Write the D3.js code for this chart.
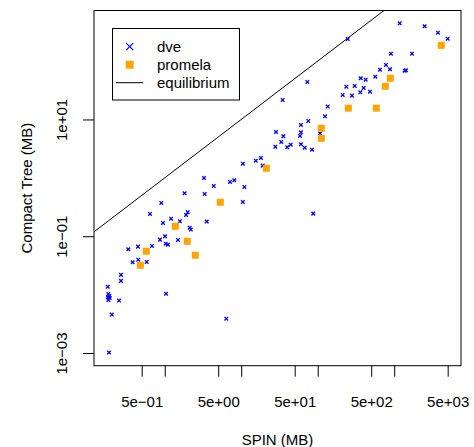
<!DOCTYPE html>
<html>
<head>
<meta charset="utf-8">
<script src="https://cdn.jsdelivr.net/npm/d3@7"></script>
<style>
  html, body { margin: 0; padding: 0; background: #fff; }
  svg { display: block; font-family: "Liberation Sans", Arial, Helvetica, sans-serif; }
</style>
</head>
<body>
<svg id="chart" width="474" height="447"></svg>
<script>
// ---- data ----
const dveSpin = [1179, 2500, 3733, 5000, 246.5, 907, 1708, 780, 651.6, 880.6, 1371, 1426,
  73.1, 364.6, 423.6, 565.6, 236.4, 304.3, 399, 360.2, 482, 212.1, 280.5, 34.8, 135, 124.5,
  75.3, 60.4, 28.5, 60.4, 35.5, 58.6, 107.1, 33.4, 44.3, 27.9, 40.0, 60.4, 67.5, 84.1,
  18.1, 15.5, 10.5, 19.1, 3.26, 4.37, 7.13, 8.12, 11.0, 1.82, 3.33, 10.5, 0.902, 0.642,
  2.00, 1.90, 1.21, 0.949, 1.58, 3.54, 2.12, 2.19, 1.01, 0.867, 1.49, 1.03, 1.10, 0.682,
  0.447, 0.334, 0.451, 0.581, 0.381, 0.268, 0.268, 0.180, 0.183, 0.189, 0.180, 0.191,
  0.183, 1.04, 0.253, 0.203, 0.187, 6.38, 87.5];
const dveTree = [443.6, 394.5, 306.4, 241.8, 238.9, 133.9, 133.9, 85.8, 71.2, 72.4, 68.5, 69.6,
  43.9, 50.8, 48.0, 54.1, 36.4, 37.5, 34.6, 29.2, 29.9, 26.3, 25.6, 21.6, 16.6, 11.3,
  9.43, 8.05, 6.11, 6.04, 5.16, 5.22, 5.80, 4.12, 3.70, 3.42, 3.34, 3.76, 3.29, 3.04,
  2.19, 1.97, 1.75, 1.62, 0.996, 0.727, 0.851, 0.910, 0.699, 0.545, 0.530, 0.387, 0.372, 0.241,
  0.258, 0.232, 0.200, 0.169, 0.181, 0.179, 0.140, 0.130, 0.100, 0.0875, 0.0864, 0.0747, 0.0718, 0.0682,
  0.0664, 0.0599, 0.0397, 0.0363, 0.0359, 0.0218, 0.0172, 0.0137, 0.0103, 0.00950, 0.00903, 0.00878,
  0.00811, 0.0104, 0.00790, 0.00455, 0.00102, 0.00388, 0.244];
const promelaSpin = [0.48, 0.574, 1.374, 1.97, 2.51, 5.33, 21.3, 111.4, 111.4, 251, 583, 764, 889, 4121];
const promelaTree = [0.0318, 0.0553, 0.148, 0.082, 0.0473, 0.382, 1.46, 7.07, 4.76, 15.6, 15.6, 37.0, 50.8, 186];

const xTicks = [0.5, 1, 5, 10, 50, 100, 500, 1000, 5000];
const xTickLabels = ["5e\u221201", "", "5e+00", "", "5e+01", "", "5e+02", "", "5e+03"];
const yTicks = [0.001, 0.1, 10];
const yTickLabels = ["1e\u221203", "1e\u221201", "1e+01"];

const legendLabels = ["dve", "promela", "equilibrium"];
const xTitle = "SPIN (MB)";
const yTitle = "Compact Tree (MB)";

// ---- layout ----
const L = 94, R = 461, T = 10.5, B = 365.7;
const svg = d3.select("#chart");

const x = d3.scaleLog().domain([Math.pow(10, -0.9245), Math.pow(10, 3.873)]).range([L, R]);
const y = d3.scaleLog().domain([Math.pow(10, -3.217), Math.pow(10, 2.866)]).range([B, T]);

svg.append("rect").attr("width", 474).attr("height", 447).attr("fill", "#fff");

svg.append("defs").append("clipPath").attr("id", "plotclip")
  .append("rect").attr("x", L).attr("y", T).attr("width", R - L).attr("height", B - T);

// equilibrium line y = x
const eqStart = Math.max(x.domain()[0], y.domain()[0]);
const eqEnd = Math.min(x.domain()[1], y.domain()[1]);
svg.append("line")
  .attr("clip-path", "url(#plotclip)")
  .attr("x1", x(eqStart)).attr("y1", y(eqStart))
  .attr("x2", x(eqEnd)).attr("y2", y(eqEnd))
  .attr("stroke", "#000").attr("stroke-width", 1);

// dve points (x marks)
const dve = dveSpin.map((v, i) => [v, dveTree[i]]);
const s = 1.8;
svg.append("g").selectAll("path").data(dve).join("path")
  .attr("d", `M${-s},${-s}L${s},${s}M${-s},${s}L${s},${-s}`)
  .attr("transform", d => `translate(${x(d[0])},${y(d[1])})`)
  .attr("stroke", "#0000ff").attr("stroke-width", 1.3).attr("fill", "none");

// promela points (squares)
const prom = promelaSpin.map((v, i) => [v, promelaTree[i]]);
const q = 7;
svg.append("g").selectAll("rect").data(prom).join("rect")
  .attr("x", d => x(d[0]) - q / 2).attr("y", d => y(d[1]) - q / 2)
  .attr("width", q).attr("height", q).attr("fill", "#ffa500");

// box
svg.append("rect").attr("x", L).attr("y", T).attr("width", R - L).attr("height", B - T)
  .attr("fill", "none").attr("stroke", "#000").attr("stroke-width", 1);

// x axis
const xAxis = d3.axisBottom(x).tickValues(xTicks).tickSize(11)
  .tickFormat((d, i) => xTickLabels[i]);
const gx = svg.append("g").attr("transform", `translate(0,${B})`).call(xAxis);
gx.select(".domain").remove();
gx.selectAll(".tick line").attr("stroke", "#000");
gx.selectAll(".tick text").attr("font-size", 15).attr("fill", "#000")
  .attr("font-family", "Liberation Sans, Arial, sans-serif").attr("dy", null).attr("y", 41);

// y axis
const yAxis = d3.axisLeft(y).tickValues(yTicks).tickSize(11)
  .tickFormat((d, i) => yTickLabels[i]);
const gy = svg.append("g").attr("transform", `translate(${L},0)`).call(yAxis);
gy.select(".domain").remove();
gy.selectAll(".tick line").attr("stroke", "#000");
gy.selectAll(".tick text")
  .attr("font-size", 15).attr("fill", "#000")
  .attr("font-family", "Liberation Sans, Arial, sans-serif")
  .attr("x", null).attr("dy", null)
  .attr("text-anchor", "middle")
  .attr("transform", "translate(-27,0) rotate(-90)");

// axis titles
svg.append("text").attr("x", (L + R) / 2).attr("y", 445).attr("text-anchor", "middle")
  .attr("font-size", 15).attr("fill", "#000").text(xTitle);
svg.append("text").attr("transform", `translate(32,${(T + B) / 2}) rotate(-90)`)
  .attr("text-anchor", "middle").attr("font-size", 15).attr("fill", "#000").text(yTitle);

// legend
const lg = svg.append("g");
lg.append("rect").attr("x", 112.5).attr("y", 28.5).attr("width", 127).attr("height", 71.5)
  .attr("fill", "#fff").attr("stroke", "#000").attr("stroke-width", 1);
const base = [52.3, 70.3, 88.3];
legendLabels.forEach((t, i) => {
  lg.append("text").attr("x", 157).attr("y", base[i]).attr("font-size", 15).attr("fill", "#000").text(t);
});
const ls = 3.5;
lg.append("path")
  .attr("d", `M${-ls},${-ls}L${ls},${ls}M${-ls},${ls}L${ls},${-ls}`)
  .attr("transform", `translate(129.7,${base[0] - 5.6})`)
  .attr("stroke", "#0000ff").attr("stroke-width", 1.2).attr("fill", "none");
lg.append("rect").attr("x", 129.7 - 4).attr("y", base[1] - 5.6 - 4).attr("width", 8).attr("height", 8)
  .attr("fill", "#ffa500");
lg.append("line").attr("x1", 116).attr("x2", 143.3)
  .attr("y1", base[2] - 5.6).attr("y2", base[2] - 5.6)
  .attr("stroke", "#000").attr("stroke-width", 1);
</script>
</body>
</html>
